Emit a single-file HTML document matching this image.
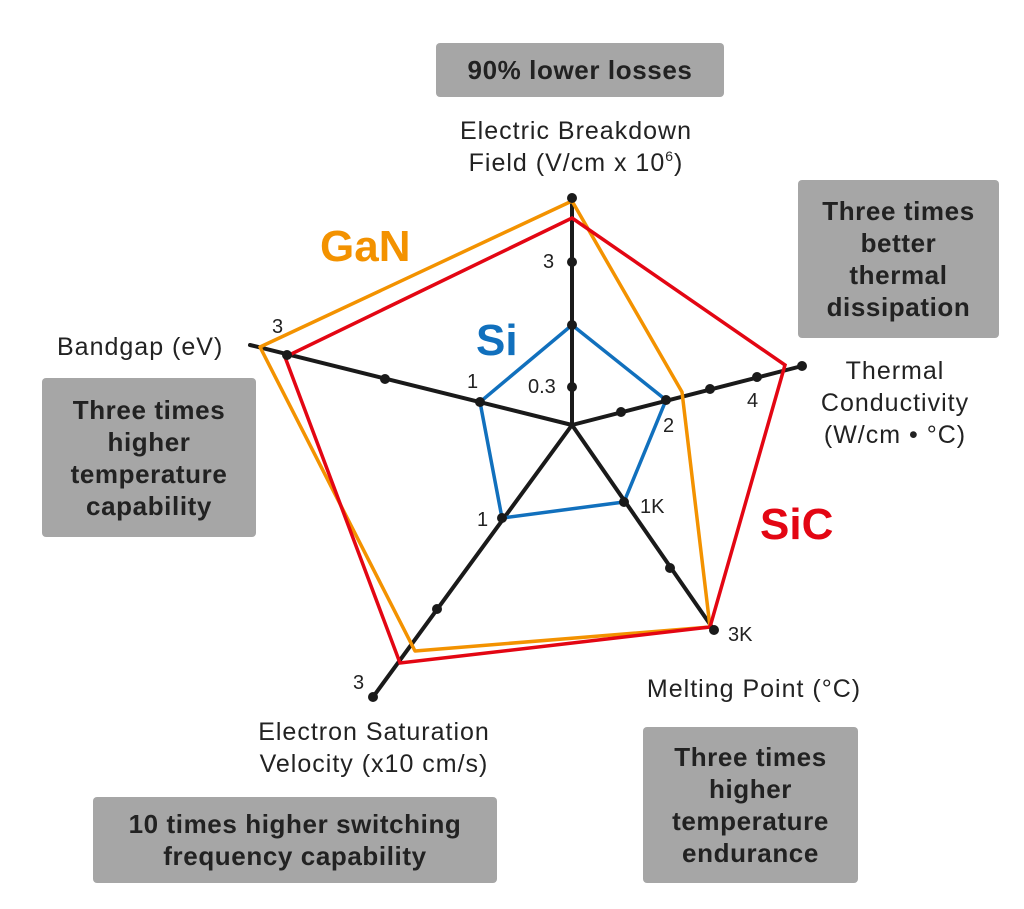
<!DOCTYPE html>
<html><head><meta charset="utf-8"><style>
body{margin:0;background:#fff;width:1024px;height:909px;overflow:hidden;font-family:"Liberation Sans",sans-serif}
.box{position:absolute;background:#a6a6a6;border-radius:4px;color:#222;font-weight:bold;font-size:26px;letter-spacing:0.6px;line-height:32px;text-align:center;display:flex;align-items:center;justify-content:center}
</style></head><body>
<div class="box" style="left:436px;top:43px;width:288px;height:54px">90% lower losses</div>
<div class="box" style="left:798px;top:180px;width:201px;height:158px">Three times<br>better<br>thermal<br>dissipation</div>
<div class="box" style="left:42px;top:378px;width:214px;height:159px">Three times<br>higher<br>temperature<br>capability</div>
<div class="box" style="left:93px;top:797px;width:404px;height:86px">10 times higher switching<br>frequency capability</div>
<div class="box" style="left:643px;top:727px;width:215px;height:156px">Three times<br>higher<br>temperature<br>endurance</div>
<svg width="1024" height="909" style="position:absolute;left:0;top:0" font-family="Liberation Sans, sans-serif">
<g fill="#222" font-size="25" letter-spacing="1">
<text x="576" y="139" text-anchor="middle">Electric Breakdown</text>
<text x="576" y="171" text-anchor="middle">Field (V/cm x 10<tspan font-size="14" dy="-10">6</tspan><tspan dy="10">)</tspan></text>
<text x="895" y="379" text-anchor="middle">Thermal</text>
<text x="895" y="411" text-anchor="middle">Conductivity</text>
<text x="895" y="443" text-anchor="middle">(W/cm • °C)</text>
<text x="57" y="355">Bandgap (eV)</text>
<text x="754" y="697" text-anchor="middle">Melting Point (°C)</text>
<text x="374" y="740" text-anchor="middle">Electron Saturation</text>
<text x="374" y="772" text-anchor="middle">Velocity (x10 cm/s)</text>
<g font-size="20" letter-spacing="0">
<text x="543" y="268">3</text><text x="528" y="393">0.3</text>
<text x="272" y="333">3</text><text x="467" y="388">1</text>
<text x="747" y="407">4</text><text x="663" y="432">2</text>
<text x="640" y="513">1K</text><text x="728" y="641">3K</text>
<text x="477" y="526">1</text><text x="353" y="689">3</text>
</g></g>
<text x="320" y="261" fill="#f39200" font-size="44" font-weight="bold">GaN</text>
<text x="476" y="355" fill="#1170bd" font-size="44" font-weight="bold">Si</text>
<text x="760" y="539" fill="#e30613" font-size="44" font-weight="bold">SiC</text>
<g stroke="#1a1a1a" stroke-width="4" stroke-linecap="round">
<line x1="572" y1="425" x2="572" y2="198"/>
<line x1="572" y1="425" x2="802" y2="366"/>
<line x1="572" y1="425" x2="714" y2="630"/>
<line x1="572" y1="425" x2="373" y2="697"/>
<line x1="572" y1="425" x2="250" y2="345"/>
</g>
<polygon points="572,325 666,400 624,502 502,518 480,402" fill="none" stroke="#1170bd" stroke-width="3.5"/>
<polygon points="572,201 682,392 710,627 415,651 260,347" fill="none" stroke="#f39200" stroke-width="3.5" stroke-linejoin="round"/>
<polygon points="572,218 785,365 710,627 400,663 285,357" fill="none" stroke="#e30613" stroke-width="3.5"/>
<g fill="#1a1a1a">
<circle cx="572" cy="198" r="5"/><circle cx="572" cy="262" r="5"/><circle cx="572" cy="325" r="5"/><circle cx="572" cy="387" r="5"/>
<circle cx="802" cy="366" r="5"/><circle cx="757" cy="377" r="5"/><circle cx="710" cy="389" r="5"/><circle cx="666" cy="400" r="5"/><circle cx="621" cy="412" r="5"/>
<circle cx="714" cy="630" r="5"/><circle cx="670" cy="568" r="5"/><circle cx="624" cy="502" r="5"/>
<circle cx="373" cy="697" r="5"/><circle cx="437" cy="609" r="5"/><circle cx="502" cy="518" r="5"/>
<circle cx="287" cy="355" r="5"/><circle cx="385" cy="379" r="5"/><circle cx="480" cy="402" r="5"/>
</g>
</svg>
</body></html>
